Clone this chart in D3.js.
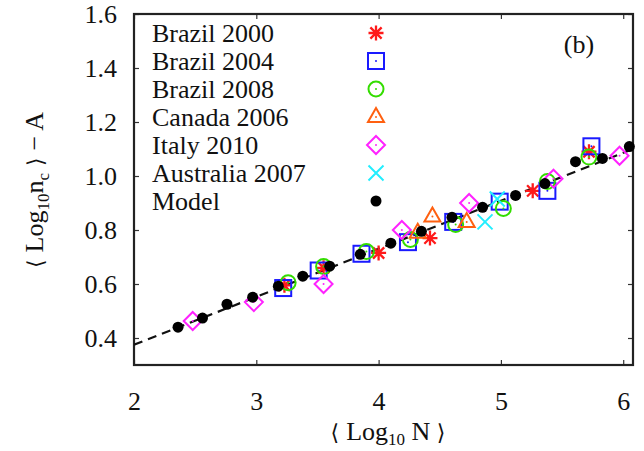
<!DOCTYPE html>
<html>
<head>
<meta charset="utf-8">
<script src="https://cdn.jsdelivr.net/npm/d3@7"></script>
<style>
  html, body { margin: 0; padding: 0; background: #fff; }
  svg { display: block; }
  text { font-family: "Liberation Serif", "Times New Roman", serif; fill: #111; }
</style>
</head>
<body>
<svg id="chart" width="644" height="451"></svg>
<script>
// ---- data ----
const seriesNames = ["Brazil 2000", "Brazil 2004", "Brazil 2008", "Canada 2006", "Italy 2010", "Australia 2007", "Model"];
const brazil2000 = [[3.23,0.595],[3.55,0.66],[4.00,0.715],[4.42,0.77],[5.26,0.945],[5.72,1.09]];
const brazil2004 = [[3.22,0.585],[3.51,0.65],[3.86,0.712],[4.24,0.755],[4.61,0.83],[4.99,0.905],[5.38,0.945],[5.74,1.11]];
const brazil2008 = [[3.26,0.605],[3.55,0.665],[3.90,0.72],[4.26,0.765],[4.63,0.82],[5.02,0.88],[5.38,0.98],[5.72,1.07]];
const canada2006 = [[4.32,0.79],[4.44,0.85],[4.72,0.83]];
const italy2010 = [[2.48,0.463],[2.98,0.533],[3.55,0.60],[4.19,0.80],[4.74,0.90],[5.43,0.99],[5.97,1.075]];
const australia2007 = [[4.87,0.83],[4.97,0.915]];
const model = [[2.36,0.440],[2.56,0.474],[2.76,0.525],[2.97,0.551],[3.18,0.592],[3.38,0.629],[3.60,0.666],[3.85,0.710],[4.10,0.751],[4.35,0.795],[4.60,0.847],[4.85,0.884],[5.12,0.928],[5.36,0.972],[5.61,1.053],[5.83,1.065],[6.05,1.109]];
const fitLine = [[2.0,0.375],[6.08,1.10]];
const xTicks = [2,3,4,5,6];
const yTicks = [0.4,0.6,0.8,1.0,1.2,1.4,1.6];
const panelLabel = "(b)";

// ---- layout ----
const L = 134, R = 633, T = 14, B = 365;
const svg = d3.select("#chart");
const x = d3.scaleLinear().domain([2, 6.08]).range([L, R]);
const y = d3.scaleLinear().domain([0.3, 1.6]).range([B, T]);

// ticks via axes (inward, mirrored)
const tl = 5;
svg.append("g").attr("transform", `translate(0,${B})`)
  .call(d3.axisBottom(x).tickValues(xTicks).tickSize(-tl).tickPadding(27).tickFormat(d3.format("d")))
  .call(g => { g.select(".domain").remove(); g.selectAll("line").attr("stroke","#333").attr("stroke-width",1.2);
    g.selectAll("text").attr("font-size",26).attr("fill","#111").attr("font-family","Liberation Serif, serif"); });
svg.append("g").attr("transform", `translate(0,${T})`)
  .call(d3.axisTop(x).tickValues(xTicks).tickSize(-tl).tickFormat(""))
  .call(g => { g.select(".domain").remove(); g.selectAll("line").attr("stroke","#333").attr("stroke-width",1.2); });
svg.append("g").attr("transform", `translate(${L},0)`)
  .call(d3.axisLeft(y).tickValues(yTicks).tickSize(-tl).tickPadding(17).tickFormat(d3.format(".1f")))
  .call(g => { g.select(".domain").remove(); g.selectAll("line").attr("stroke","#333").attr("stroke-width",1.2);
    g.selectAll("text").attr("font-size",26).attr("fill","#111").attr("font-family","Liberation Serif, serif"); });
svg.append("g").attr("transform", `translate(${R},0)`)
  .call(d3.axisRight(y).tickValues(yTicks).tickSize(-tl).tickFormat(""))
  .call(g => { g.select(".domain").remove(); g.selectAll("line").attr("stroke","#333").attr("stroke-width",1.2); });

// frame
svg.append("rect").attr("x", L).attr("y", T).attr("width", R - L).attr("height", B - T)
  .attr("fill", "none").attr("stroke", "#222").attr("stroke-width", 2.2);

const plot = svg.append("g");
const clipId = "clipP";
svg.append("clipPath").attr("id", clipId).append("rect").attr("x", L).attr("y", T).attr("width", R-L).attr("height", B-T);

// dashed fit line
plot.append("path").attr("clip-path", `url(#${clipId})`)
  .datum(fitLine)
  .attr("d", d3.line().x(d => x(d[0])).y(d => y(d[1])))
  .attr("fill", "none").attr("stroke", "#111").attr("stroke-width", 2.2)
  .attr("stroke-dasharray", "9,6");

// marker drawing
const sw = 2;
function marker(g, type, color, cx, cy) {
  const s = g.append("g").attr("transform", `translate(${cx},${cy})`)
    .attr("fill", "none").attr("stroke", color).attr("stroke-width", sw);
  if (type === "star") {
    const a = 7.5;
    s.attr("stroke-width", 2.3);
    s.append("path").attr("d", `M${-a},0H${a}M0,${-a}V${a}M${-a*0.75},${-a*0.75}L${a*0.75},${a*0.75}M${-a*0.75},${a*0.75}L${a*0.75},${-a*0.75}`);
  } else if (type === "square") {
    s.append("rect").attr("x", -8).attr("y", -8).attr("width", 16).attr("height", 16);
    s.append("circle").attr("r", 1).attr("fill", color).attr("stroke", "none");
  } else if (type === "circle") {
    s.append("circle").attr("r", 7.5);
    s.append("circle").attr("r", 1).attr("fill", color).attr("stroke", "none");
  } else if (type === "triangle") {
    s.append("path").attr("d", "M0,-9L8,5H-8Z");
    s.append("circle").attr("r", 1).attr("fill", color).attr("stroke", "none");
  } else if (type === "diamond") {
    s.append("path").attr("d", "M0,-9L9,0L0,9L-9,0Z");
    s.append("circle").attr("r", 1).attr("fill", color).attr("stroke", "none");
  } else if (type === "cross") {
    const a = 7.5;
    s.append("path").attr("d", `M${-a},${-a}L${a},${a}M${-a},${a}L${a},${-a}`);
  } else if (type === "dot") {
    s.attr("stroke", "none").append("circle").attr("r", 5.5).attr("fill", color);
  }
}

const series = [
  { name: seriesNames[0], data: brazil2000, type: "star", color: "#ff1a1a" },
  { name: seriesNames[1], data: brazil2004, type: "square", color: "#1a1aff" },
  { name: seriesNames[2], data: brazil2008, type: "circle", color: "#33dd00" },
  { name: seriesNames[3], data: canada2006, type: "triangle", color: "#ff6010" },
  { name: seriesNames[4], data: italy2010, type: "diamond", color: "#ff22ff" },
  { name: seriesNames[5], data: australia2007, type: "cross", color: "#22eeff" },
  { name: seriesNames[6], data: model, type: "dot", color: "#000" }
];

series.forEach(sr => {
  const g = plot.append("g");
  sr.data.forEach(d => marker(g, sr.type, sr.color, x(d[0]), y(d[1])));
});

// legend
const leg = svg.append("g");
series.forEach((sr, i) => {
  const cy = 33 + i * 28;
  leg.append("text").attr("x", 152).attr("y", cy + 9).attr("font-size", 26).text(sr.name);
  marker(leg, sr.type, sr.color, 376, cy);
});

// panel label
svg.append("text").attr("x", 579).attr("y", 53).attr("text-anchor", "middle").attr("font-size", 26).text(panelLabel);

// x title
const xt = svg.append("text").attr("x", 388).attr("y", 440).attr("text-anchor", "middle").attr("font-size", 26);
xt.append("tspan").attr("font-family", "DejaVu Sans, sans-serif").attr("font-size", 22).text("\u27E8 ");
xt.append("tspan").text("Log");
xt.append("tspan").attr("font-size", 17).attr("dy", 5).text("10");
xt.append("tspan").attr("dy", -5).text(" N ");
xt.append("tspan").attr("font-family", "DejaVu Sans, sans-serif").attr("font-size", 22).text("\u27E9");

// y title
const yt = svg.append("text").attr("transform", "translate(43,190) rotate(-90)").attr("text-anchor", "middle").attr("font-size", 26);
yt.append("tspan").attr("font-family", "DejaVu Sans, sans-serif").attr("font-size", 22).text("\u27E8 ");
yt.append("tspan").text("Log");
yt.append("tspan").attr("font-size", 17).attr("dy", 6).text("10");
yt.append("tspan").attr("dy", -6).text("n");
yt.append("tspan").attr("font-size", 17).attr("dy", 6).text("c");
yt.append("tspan").attr("dy", -6).attr("font-family", "DejaVu Sans, sans-serif").attr("font-size", 22).text(" \u27E9 ");
yt.append("tspan").text("\u2212 A");
</script>
</body>
</html>
